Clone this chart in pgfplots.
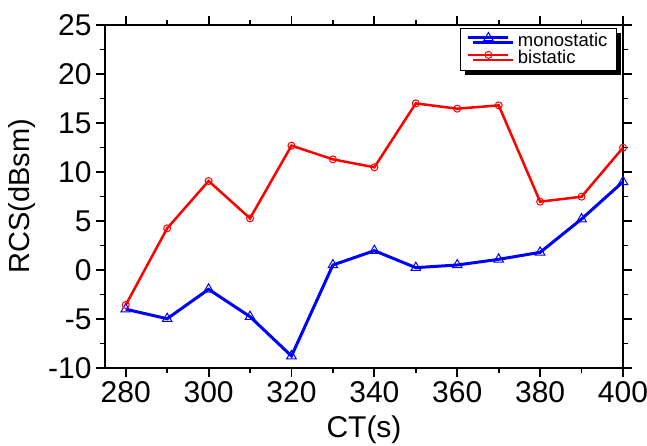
\documentclass[border=0pt]{standalone}
\usepackage{pgfplots}
\pgfplotsset{compat=1.18}
\usepackage{fontspec}
\setmainfont{Liberation Sans}
\usetikzlibrary{shadows}
\begin{document}
\begin{tikzpicture}
\begin{axis}[
  name=ax,
  scale only axis,
  width=518pt, height=343pt,
  xmin=275, xmax=400, ymin=-10, ymax=25,
  xtick={280,300,...,400},
  minor xtick={290,310,...,390},
  ytick={-10,-5,...,25},
  minor ytick={-7.5,-2.5,...,22.5},
  tick align=outside,
  major tick length=9pt,
  minor tick length=5pt,
  every tick/.style={black, line width=1.8pt},
  axis line style={line width=2.5pt},
  /pgf/number format/assume math mode=true,
  ticklabel style={font=\fontsize{30}{34}\selectfont},
  xticklabel style={yshift=-1pt},
  yticklabel style={xshift=-1pt},
  xlabel={CT(s)},
  ylabel={RCS(dBsm)},
  xlabel style={font=\fontsize{30}{34}\selectfont, yshift=-6pt},
  ylabel style={font=\fontsize{29}{34}\selectfont, yshift=6pt},
  legend style={at={(0.988,0.991)}, anchor=north east, draw=black, line width=0.8pt,
    fill=white, font=\fontsize{18.5}{20}\selectfont,
    drop shadow={shadow xshift=5pt, shadow yshift=-5pt, opacity=1, fill=black},
    inner xsep=7pt, inner ysep=4pt, nodes={inner xsep=2pt, inner ysep=1pt},
    row sep=0pt},
  legend cell align=left,
  legend image code/.code={\draw[#1, mark repeat=2, mark phase=2] plot coordinates {(0pt,3pt) (20pt,3pt) (40pt,3pt)};
    \path (46pt,3pt);},
]
\addplot[blue, line width=3pt, mark=triangle, mark size=5.5pt,
  mark options={fill=white, solid, line width=1pt}] coordinates {
(280,-4.0) (290,-4.97) (300,-1.97) (310,-4.76) (320,-8.78) (330,0.51) (340,1.97)
(350,0.24) (360,0.51) (370,1.09) (380,1.8) (390,5.2) (400,9.0)};
\addlegendentry{monostatic}
\addplot[red, line width=2.5pt, mark=o, mark size=3.5pt,
  mark options={fill=white, solid, line width=1pt}] coordinates {
(280,-3.57) (290,4.25) (300,9.08) (310,5.27) (320,12.69) (330,11.29) (340,10.48)
(350,17.0) (360,16.46) (370,16.8) (380,6.97) (390,7.48) (400,12.48)};
\addlegendentry{bistatic}
\end{axis}
\pgfresetboundingbox
\path ([shift={(-105pt,-78pt)}]ax.south west) rectangle ([shift={(24pt,25pt)}]ax.north east);
\end{tikzpicture}
\end{document}
